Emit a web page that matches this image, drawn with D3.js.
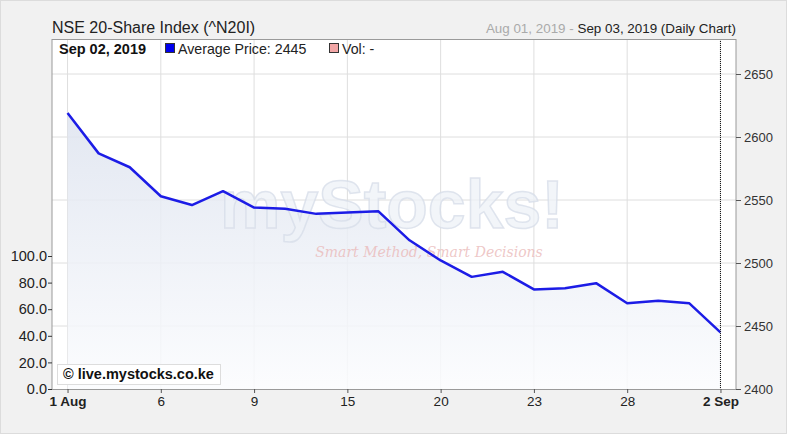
<!DOCTYPE html>
<html>
<head>
<meta charset="utf-8">
<script src="https://cdn.jsdelivr.net/npm/d3@7"></script>
<style>
  html, body { margin: 0; padding: 0; background: #fff; }
  svg { display: block; font-family: "Liberation Sans", Arial, sans-serif; }
</style>
</head>
<body>
<svg id="chart" width="788" height="436"></svg>
<script>
// trading days, Aug 01 2019 - Sep 02 2019 (Aug 12 was a holiday)
const dates = ["2019-08-01", "2019-08-02", "2019-08-05", "2019-08-06", "2019-08-07", "2019-08-08",
  "2019-08-09", "2019-08-13", "2019-08-14", "2019-08-15", "2019-08-16", "2019-08-19",
  "2019-08-20", "2019-08-21", "2019-08-22", "2019-08-23", "2019-08-26", "2019-08-27",
  "2019-08-28", "2019-08-29", "2019-08-30", "2019-09-02"];

// average price
const prices = [2619, 2587, 2576, 2553, 2546, 2557, 2544, 2543, 2539, 2540, 2541, 2518,
  2502, 2489, 2493, 2479, 2480, 2484, 2468, 2470, 2468, 2445];

// x axis labels (bold ones are month starts)
const xTicks = ["2019-08-01", "2019-08-06", "2019-08-09", "2019-08-15", "2019-08-20",
  "2019-08-23", "2019-08-28", "2019-09-02"];
const xTickLabels = ["1 Aug", "6", "9", "15", "20", "23", "28", "2 Sep"];

const priceTicks = [2400, 2450, 2500, 2550, 2600, 2650];
const volTicks = [0, 20, 40, 60, 80, 100];

const data = dates.map((d, i) => ({ date: d, price: prices[i] }));

const svg = d3.select("#chart");
const plotLeft = 52, plotRight = 736, plotTop = 39, plotBottom = 389;

// page background
svg.append("rect").attr("x", 0.5).attr("y", 0.5).attr("width", 786).attr("height", 433)
  .attr("fill", "#f1f1f1").attr("stroke", "#dcdcdc");

const x = d3.scalePoint().domain(dates).range([plotLeft, plotRight]).padding(0.5);
const y = d3.scaleLinear().domain([2400, 2400 + (plotBottom - plotTop) / 63 * 50]).range([plotBottom, plotTop]);
const yVol = d3.scaleLinear().domain([0, 100]).range([plotBottom, 256]);

// plot area
svg.append("rect").attr("x", plotLeft).attr("y", plotTop).attr("width", plotRight - plotLeft)
  .attr("height", plotBottom - plotTop).attr("fill", "#fff");

// grid
const grid = svg.append("g");
grid.selectAll("line.v").data(xTicks).join("line").attr("class", "v")
  .attr("x1", d => x(d)).attr("x2", d => x(d)).attr("y1", plotTop).attr("y2", plotBottom)
  .attr("stroke", "#dedede").attr("stroke-width", 1);
grid.selectAll("line.h").data(priceTicks.slice(1)).join("line").attr("class", "h")
  .attr("x1", plotLeft).attr("x2", plotRight).attr("y1", d => y(d)).attr("y2", d => y(d))
  .attr("stroke", "#dedede").attr("stroke-width", 1);

// area gradient
const defs = svg.append("defs");
const grad = defs.append("linearGradient").attr("id", "fillGrad")
  .attr("gradientUnits", "userSpaceOnUse").attr("x1", 0).attr("x2", 0).attr("y1", plotTop).attr("y2", plotBottom);
grad.append("stop").attr("offset", "0%").attr("stop-color", "#d6ddeb");
grad.append("stop").attr("offset", "100%").attr("stop-color", "#fbfcfe");

svg.append("path").datum(data)
  .attr("d", d3.area().x(d => x(d.date)).y0(plotBottom).y1(d => y(d.price)))
  .attr("fill", "url(#fillGrad)").attr("fill-opacity", 0.85);

// watermark
const wm = svg.append("g").attr("pointer-events", "none");
wm.append("text").attr("x", 392).attr("y", 228).attr("text-anchor", "middle")
  .attr("font-size", 68).attr("font-weight", "bold").attr("fill", "#eef1f7").attr("fill-opacity", 0.75)
  .attr("stroke", "#d6dce8").attr("stroke-width", 1.5).attr("stroke-opacity", 0.75)
  .text("myStocks!");
wm.append("text").attr("x", 429).attr("y", 257).attr("text-anchor", "middle")
  .attr("font-size", 14).attr("font-style", "italic").attr("font-family", "DejaVu Serif, serif")
  .attr("fill", "#eab9b9").attr("fill-opacity", 0.8)
  .text("Smart Method, Smart Decisions");

// price line
svg.append("path").datum(data)
  .attr("d", d3.line().x(d => x(d.date)).y(d => y(d.price)))
  .attr("fill", "none").attr("stroke", "#1c1ce6").attr("stroke-width", 2.5).attr("stroke-linejoin", "round");

// crosshair at last point
const last = data[data.length - 1];
svg.append("line").attr("x1", x(last.date)).attr("x2", x(last.date)).attr("y1", plotTop).attr("y2", plotBottom)
  .attr("stroke", "#111").attr("stroke-width", 1).attr("stroke-dasharray", "1,1");

// plot border
svg.append("rect").attr("x", plotLeft).attr("y", plotTop + 0.5).attr("width", plotRight - plotLeft)
  .attr("height", plotBottom - plotTop).attr("fill", "none").attr("stroke", "#9a9a9a");

// right price axis
const yAxis = svg.append("g").attr("transform", `translate(${plotRight},0)`)
  .call(d3.axisRight(y).tickValues(priceTicks).tickFormat(d3.format("d")).tickSize(5).tickPadding(3));
yAxis.select(".domain").remove();
yAxis.selectAll("line").attr("stroke", "#555");
yAxis.selectAll("text").attr("font-size", 13).attr("fill", "#333").attr("font-family", null);

// left volume axis
const vAxis = svg.append("g").attr("transform", `translate(${plotLeft},0)`)
  .call(d3.axisLeft(yVol).tickValues(volTicks).tickFormat(d3.format(".1f")).tickSize(4).tickPadding(1));
vAxis.select(".domain").remove();
vAxis.selectAll("line").attr("stroke", "#333");
vAxis.selectAll("text").attr("font-size", 14.5).attr("fill", "#222").attr("font-family", null);

// x axis
const xAxis = svg.append("g").attr("transform", `translate(0,${plotBottom})`)
  .call(d3.axisBottom(x).tickValues(xTicks).tickFormat((d, i) => xTickLabels[i]).tickSize(4).tickPadding(3));
xAxis.select(".domain").remove();
xAxis.selectAll("line").attr("stroke", "#555");
xAxis.selectAll("text").attr("font-size", 13.5).attr("fill", "#222").attr("font-family", null)
  .attr("font-weight", (d, i) => (i === 0 || i === xTicks.length - 1) ? "bold" : "normal");

// titles
svg.append("text").attr("x", plotLeft).attr("y", 33).attr("font-size", 16).attr("fill", "#222")
  .text("NSE 20-Share Index (^N20I)");
const rt = svg.append("text").attr("x", plotRight).attr("y", 33).attr("text-anchor", "end").attr("font-size", 13.4);
rt.append("tspan").attr("fill", "#aaa").text("Aug 01, 2019 - ");
rt.append("tspan").attr("fill", "#222").text("Sep 03, 2019 (Daily Chart)");

// legend row
svg.append("text").attr("x", 59).attr("y", 54).attr("font-size", 14.5).attr("font-weight", "bold")
  .attr("fill", "#111").text("Sep 02, 2019");
svg.append("rect").attr("x", 165.5).attr("y", 43.5).attr("width", 9).attr("height", 9)
  .attr("fill", "#0000ee").attr("stroke", "#333");
svg.append("text").attr("x", 178).attr("y", 54).attr("font-size", 14.2).attr("fill", "#222")
  .text("Average Price: " + last.price);
svg.append("rect").attr("x", 329.5).attr("y", 43.5).attr("width", 9).attr("height", 9)
  .attr("fill", "#f2a6a6").attr("stroke", "#333");
svg.append("text").attr("x", 342).attr("y", 54).attr("font-size", 14.2).attr("fill", "#222")
  .text("Vol: -");

// copyright box
svg.append("rect").attr("x", 57.5).attr("y", 364.5).attr("width", 163).attr("height", 20)
  .attr("fill", "#fff").attr("stroke", "#ddd");
svg.append("text").attr("x", 63).attr("y", 379).attr("font-size", 14.5).attr("font-weight", "bold")
  .attr("fill", "#111").text("\u00a9 live.mystocks.co.ke");
</script>
</body>
</html>
